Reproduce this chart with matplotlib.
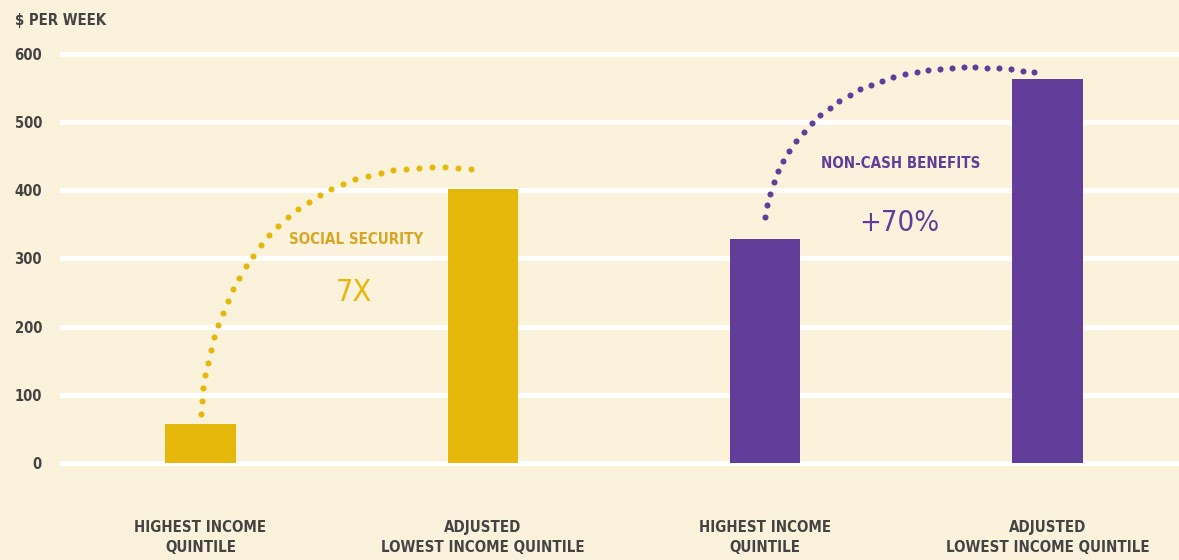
import numpy as np
import matplotlib.pyplot as plt

# weekly dollar amounts, two comparisons side by side
categories = ['HIGHEST INCOME\nQUINTILE', 'ADJUSTED\nLOWEST INCOME QUINTILE',
              'HIGHEST INCOME\nQUINTILE', 'ADJUSTED\nLOWEST INCOME QUINTILE']
weekly_values = [57, 402, 328, 563]
y_ticks = [0, 100, 200, 300, 400, 500, 600]

gold = '#E6B80B'
gold_text = '#D9A624'
purple = '#603E99'
bg = '#FBF2DC'
grey = '#444444'
bar_colors = [gold, gold, purple, purple]

narrow = dict(family='DejaVu Sans', stretch='condensed')


def dotted_connector(ax, i, j, lift0, lift1, back, c1, c2, color, spacing_px):
    # cubic bezier from just above bar i to just left of the top of bar j;
    # c1 / c2 are the control points as fractions of the span
    p0 = np.array([i, weekly_values[i] + lift0])
    p3 = np.array([j - back, weekly_values[j] + lift1])
    span = p3 - p0
    p1 = p0 + span * np.array(c1)
    p2 = p0 + span * np.array(c2)
    t = np.linspace(0, 1, 400)[:, None]
    curve = ((1 - t) ** 3 * p0 + 3 * t * (1 - t) ** 2 * p1
             + 3 * t ** 2 * (1 - t) * p2 + t ** 3 * p3)
    # even spacing on screen
    pix = ax.transData.transform(curve)
    dist = np.concatenate([[0], np.cumsum(np.hypot(*np.diff(pix, axis=0).T))])
    n = int(dist[-1] // spacing_px)
    at = np.linspace(0, dist[-1], n + 1)
    dots = np.column_stack([np.interp(at, dist, pix[:, 0]),
                            np.interp(at, dist, pix[:, 1])])
    pts = ax.transData.inverted().transform(dots)
    ax.scatter(pts[:, 0], pts[:, 1], s=19, color=color, linewidths=0, zorder=4)


fig = plt.figure(figsize=(11.79, 5.6), dpi=100, facecolor=bg)
ax = fig.add_axes([60 / 1179, 0.1489, 1 - 60 / 1179, 0.7791])
ax.set_facecolor(bg)

x = np.arange(len(weekly_values))
ax.bar(x, weekly_values, width=0.25, color=bar_colors, zorder=3)

ax.set_xlim(-0.4977, 3.466)
ax.set_ylim(-20, 620)
ax.set_yticks(y_ticks)
ax.yaxis.grid(True, color='white', lw=3.6)
ax.set_axisbelow(True)
for s in ax.spines.values():
    s.set_visible(False)

ax.set_xticks(x)
ax.set_xticklabels(categories, linespacing=1.45)
ax.tick_params(axis='x', length=0, pad=31, labelcolor=grey)
ax.tick_params(axis='y', length=0, pad=13, labelcolor=grey)
for lab in ax.get_xticklabels():
    lab.set(fontweight='bold', fontsize=10.8, **narrow)
for lab in ax.get_yticklabels():
    lab.set(fontweight='bold', fontsize=10.6, **narrow)

fig.text(15 / 1179, 1 - 20 / 560, '$ PER WEEK', ha='left', va='center',
         fontweight='bold', fontsize=10.7, color=grey, **narrow)

# connectors from the first bar of each pair to the second
dotted_connector(ax, 0, 1, 15, 29, 0.042, (0.044, 0.608), (0.367, 1.078), gold, 12.7)
dotted_connector(ax, 2, 3, 33, 10, 0.046, (0.044, 0.600), (0.345, 1.189), purple, 11.6)

ax.text(0.55, 328, 'SOCIAL SECURITY', ha='center', va='center',
        fontweight='bold', fontsize=10.8, color=gold_text, **narrow)
ax.text(0.544, 250, '7X', ha='center', va='center',
        fontsize=22, color=gold, **narrow)
ax.text(2.48, 440, 'NON-CASH BENEFITS', ha='center', va='center',
        fontweight='bold', fontsize=10.8, color=purple, **narrow)
ax.text(2.474, 352, '+70%', ha='center', va='center',
        fontsize=21, color=purple, **narrow)

fig.savefig('out.png', dpi=100, facecolor=bg)
